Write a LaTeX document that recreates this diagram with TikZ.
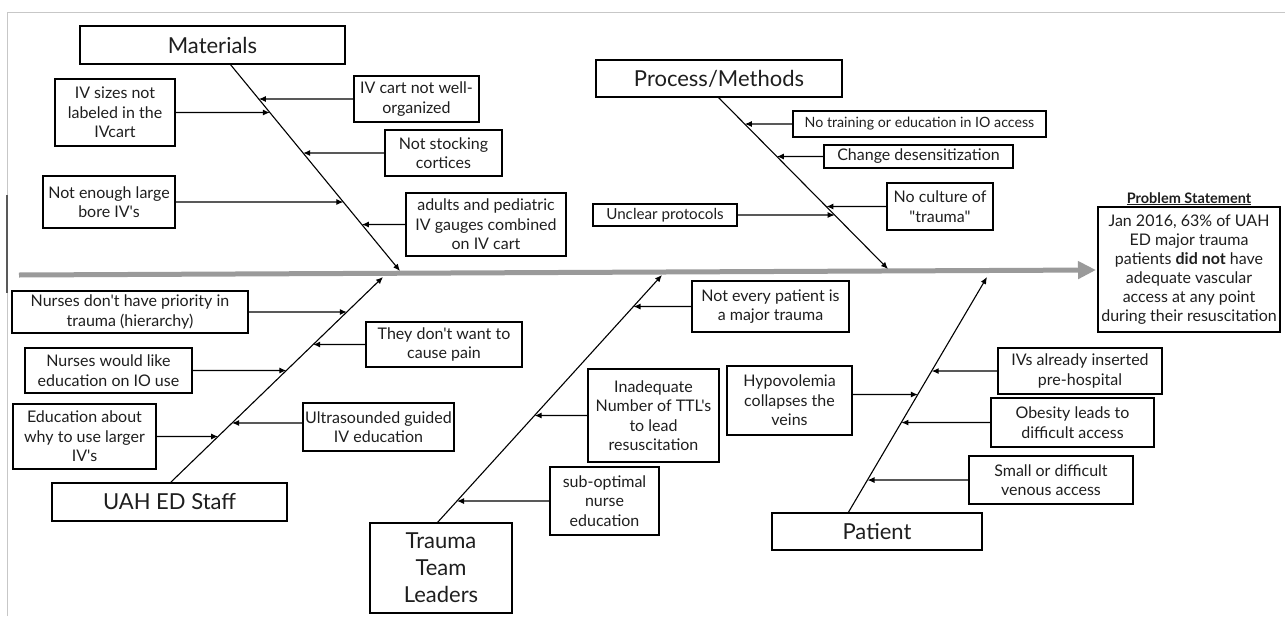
\documentclass[tikz,border=0pt]{standalone}
\usepackage{fontspec}
\setmainfont{Lato}[Ligatures=TeXOff]
\usetikzlibrary{arrows.meta}
\definecolor{txt}{HTML}{1E1E1E}
\definecolor{spinegray}{HTML}{9A9A9A}
\tikzset{
  cause/.style={draw=black, line width=1.1pt, align=center, inner sep=0pt, text=txt,
    font=\fontsize{16}{19.5}\selectfont},
  cat/.style={draw=black, line width=1.1pt, align=center, inner sep=0pt, text=txt,
    font=\fontsize{22}{27}\selectfont},
  arr/.style={-{Latex[length=7pt,width=6pt]}, line width=1.1pt, black},
  mainarr/.style={-{Triangle[length=18pt,width=17pt]}, line width=5pt, spinegray},
  frameline/.style={line width=1pt, black!22},
}
\begin{document}
\begin{tikzpicture}[x=1pt,y=-1pt]
\useasboundingbox (0,0) rectangle (1285,616);
% frame
\draw[frameline] (7,616) -- (7,12) -- (1285,12);
\draw[line width=1.6pt, black!65] (7,195) -- (7,293);

% main arrow
\coordinate (H1) at (19,275);
\coordinate (H2) at (1096,270);
\draw[mainarr] (H1) -- (H2);

% categories
\node[cat, minimum width=265pt, minimum height=38pt] (mat) at (212.5,45) {Materials};
\node[cat, minimum width=246pt, minimum height=37pt] (pro) at (719,78.5) {Process/Methods};
\node[cat, minimum width=235pt, minimum height=38pt] (uah) at (169.5,502) {UAH ED Staff};
\node[cat, minimum width=142pt, minimum height=90pt] (ttl) at (441,568) {Trauma\\Team\\Leaders};
\node[cat, minimum width=210pt, minimum height=37pt] (pat) at (877,531.5) {Patient};

% problem statement
\node[cause, line width=1.5pt, minimum width=182pt, minimum height=125pt,
  font=\fontsize{16}{19}\selectfont] (prob) at (1189,269.5)
  {Jan 2016, 63\% of UAH\\ED major trauma\\patients \textbf{did not} have\\adequate vascular\\access at any point\\during their resuscitation};
\node[text=txt, font=\fontsize{14.5}{16}\selectfont\bfseries, inner sep=0pt, anchor=base] (probt) at (1189,203)
  {\underline{Problem Statement}};

% spines
\coordinate (M1) at (230,64);  \coordinate (M2) at (400,271);
\coordinate (P1) at (718,97);  \coordinate (P2) at (888,269);
\coordinate (U1) at (170,483); \coordinate (U2) at (383,277);
\coordinate (T1) at (437,523); \coordinate (T2) at (662,275);
\coordinate (A1) at (848,513); \coordinate (A2) at (987,277);
\draw[arr] (M1) -- (M2);
\draw[arr] (P1) -- (P2);
\draw[arr] (U1) -- (U2);
\draw[arr] (T1) -- (T2);
\draw[arr] (A1) -- (A2);

% Materials causes
\node[cause, minimum width=120pt, minimum height=67pt] (m1) at (115,112.5) {IV sizes not\\labeled in the\\IVcart};
\node[cause, minimum width=125pt, minimum height=46pt] (m2) at (416.5,99) {IV cart not well-\\organized};
\node[cause, minimum width=117pt, minimum height=46pt] (m3) at (443.5,153) {Not stocking\\cortices};
\node[cause, minimum width=132pt, minimum height=52pt] (m4) at (109,202) {Not enough large\\bore IV's};
\node[cause, minimum width=160pt, minimum height=63pt] (m5) at (486,224.5) {adults and pediatric\\IV gauges combined\\on IV cart};
\draw[arr] (m1.east) -- (intersection of m1.west--m1.east and M1--M2);
\draw[arr] (m2.west) -- (intersection of m2.west--m2.east and M1--M2);
\draw[arr] (m3.west) -- (intersection of m3.west--m3.east and M1--M2);
\draw[arr] (m4.east) -- (intersection of m4.west--m4.east and M1--M2);
\draw[arr] (m5.west) -- (intersection of m5.west--m5.east and M1--M2);

% Process causes
\node[cause, minimum width=253pt, minimum height=26pt, font=\fontsize{14.2}{17}\selectfont] (p1) at (919.5,124) {No training or education in IO access};
\node[cause, minimum width=189pt, minimum height=23pt] (p2) at (918.5,156.5) {Change desensitization};
\node[cause, minimum width=106pt, minimum height=47pt] (p3) at (940,206.5) {No culture of\\"trauma"};
\node[cause, minimum width=144pt, minimum height=22pt, font=\fontsize{15.2}{18}\selectfont] (p4) at (665,215) {Unclear protocols};
\draw[arr] (p1.west) -- (intersection of p1.west--p1.east and P1--P2);
\draw[arr] (p2.west) -- (intersection of p2.west--p2.east and P1--P2);
\draw[arr] (p3.west) -- (intersection of p3.west--p3.east and P1--P2);
\draw[arr] (p4.east) -- (intersection of p4.west--p4.east and P1--P2);

% UAH ED Staff causes
\node[cause, minimum width=236pt, minimum height=42pt] (u1) at (130,312) {Nurses don't have priority in\\trauma (hierarchy)};
\node[cause, minimum width=156pt, minimum height=45pt] (u2) at (444,344.5) {They don't want to\\cause pain};
\node[cause, minimum width=167pt, minimum height=45pt] (u3) at (108.5,370.5) {Nurses would like\\education on IO use};
\node[cause, minimum width=143pt, minimum height=65pt] (u4) at (84.5,436.5) {Education about\\why to use larger\\IV's};
\node[cause, minimum width=151pt, minimum height=48pt] (u5) at (378.5,427) {Ultrasounded guided\\IV education};
\draw[arr] (u1.east) -- (intersection of u1.west--u1.east and U1--U2);
\draw[arr] (u2.west) -- (intersection of u2.west--u2.east and U1--U2);
\draw[arr] (u3.east) -- (intersection of u3.west--u3.east and U1--U2);
\draw[arr] (u4.east) -- (intersection of u4.west--u4.east and U1--U2);
\coordinate (u5l) at ([yshift=4pt]u5.west);
\coordinate (u5r) at ([yshift=4pt]u5.east);
\draw[arr] (u5l) -- (intersection of u5l--u5r and U1--U2);

% Trauma Team Leaders causes
\node[cause, minimum width=157pt, minimum height=51pt] (t1) at (770.5,306.5) {Not every patient is\\a major trauma};
\node[cause, minimum width=131pt, minimum height=93pt] (t2) at (653.5,415.5) {Inadequate\\Number of TTL's\\to lead\\resuscitation};
\node[cause, minimum width=109pt, minimum height=68pt] (t3) at (604.5,501) {sub-optimal\\nurse\\education};
\draw[arr] (t1.west) -- (intersection of t1.west--t1.east and T1--T2);
\draw[arr] (t2.west) -- (intersection of t2.west--t2.east and T1--T2);
\draw[arr] (t3.west) -- (intersection of t3.west--t3.east and T1--T2);

% Patient causes
\node[cause, minimum width=125pt, minimum height=69pt] (a0) at (789.5,400.5) {Hypovolemia\\collapses the\\veins};
\node[cause, minimum width=164pt, minimum height=46pt] (a1) at (1080,371) {IVs already inserted\\pre-hospital};
\node[cause, minimum width=163pt, minimum height=49pt] (a2) at (1072.5,422.5) {Obesity leads to\\difficult access};
\node[cause, minimum width=164pt, minimum height=48pt] (a3) at (1051,480) {Small or difficult\\venous access};
\coordinate (a0r) at ([yshift=6pt]a0.east);
\coordinate (a0l) at ([yshift=6pt]a0.west);
\draw[arr] (a0r) -- (intersection of a0l--a0r and A1--A2);
\draw[arr] (a1.west) -- (intersection of a1.west--a1.east and A1--A2);
\draw[arr] (a2.west) -- (intersection of a2.west--a2.east and A1--A2);
\draw[arr] (a3.west) -- (intersection of a3.west--a3.east and A1--A2);
\end{tikzpicture}
\end{document}
